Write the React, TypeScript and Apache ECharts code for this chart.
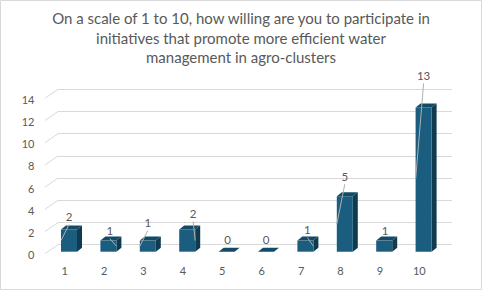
import React, { useEffect, useRef } from "react";
import * as echarts from "echarts";

const TITLE = "On a scale of 1 to 10, how willing are you to participate in\ninitiatives that promote more efficient water\nmanagement in agro-clusters";
const categories = ["1", "2", "3", "4", "5", "6", "7", "8", "9", "10"];
const values = [2, 1, 1, 2, 0, 0, 1, 5, 1, 13];
const yTicks = [0, 2, 4, 6, 8, 10, 12, 14];

// label layout (manual label placement as in the source, px relative to bar front top)
const labelDx = [0, 1.5, 0, 6, 1, 0, 2, 0, 1, 0];
const labelDy = [-13, -10, -18, -16, -12, -12, -11, -20, -10, -32];
const hasLeader = [true, true, true, true, false, false, true, true, false, true];

const FRONT_DX = -8.7;
const FRONT_DY = 7;
const DEPTH_X = 5;
const DEPTH_Y = -4;
const BAR_W = 16;
const TEXT = "#595959";
const GRID = "#d9d9d9";
const FONT = "Lato, 'Open Sans', sans-serif";

export default function App() {
  const ref = useRef<HTMLDivElement>(null);
  useEffect(() => {
    document.body.style.margin = "0";
    const chart = echarts.init(ref.current!, null, { renderer: "svg" });
    chart.setOption({
      animation: false,
      backgroundColor: "#ffffff",
      title: {
        text: TITLE,
        left: 241,
        top: 8,
        padding: 0,
        textAlign: "center",
        textStyle: { color: TEXT, fontSize: 15, fontWeight: "normal", lineHeight: 19.7, fontFamily: FONT, align: "center" },
      },
      grid: { left: 58, right: 30, top: 89.3, bottom: 45.3 },
      xAxis: {
        type: "category",
        data: categories,
        axisLine: { show: false },
        axisTick: { show: false },
        axisLabel: { color: TEXT, fontSize: 11, fontFamily: FONT, margin: 20, padding: [0, 26, 0, 0] },
      },
      yAxis: {
        type: "value",
        min: 0,
        max: 14,
        interval: 2,
        axisLine: { show: false },
        axisTick: { show: false },
        splitLine: { lineStyle: { color: GRID, width: 1 } },
        axisLabel: { color: TEXT, fontSize: 11, fontFamily: FONT, margin: 23.5, verticalAlign: "top", lineHeight: 20 },
      },
      graphic: [
        { type: "rect", shape: { x: 0.5, y: 0.5, width: 481, height: 289 }, style: { fill: "none", stroke: GRID, lineWidth: 1 } },
      ],
      series: [
        {
          type: "custom",
          data: yTicks.map((t) => [0, t]),
          silent: true,
          z: 1,
          renderItem: (params: any, api: any) => {
            const p = api.coord([0, api.value(1)]);
            const x0 = params.coordSys.x;
            return {
              type: "line",
              shape: { x1: x0, y1: p[1], x2: x0 - 13, y2: p[1] + 9 },
              style: { stroke: GRID, lineWidth: 1 },
            };
          },
        },
        {
          type: "custom",
          data: values.map((v, i) => [i, v]),
          z: 2,
          renderItem: (params: any, api: any) => {
            const i = api.value(0);
            const v = api.value(1);
            const p0 = api.coord([i, 0]);
            const p1 = api.coord([i, v]);
            const cx = p0[0] + FRONT_DX;
            const l = cx - BAR_W / 2;
            const r = cx + BAR_W / 2;
            const b = p0[1] + FRONT_DY;
            const t = p1[1] + FRONT_DY;
            const children: any[] = [];
            if (b - t > 0.5) {
              children.push({
                type: "polygon",
                shape: { points: [[r, t], [r + DEPTH_X, t + DEPTH_Y], [r + DEPTH_X, b + DEPTH_Y], [r, b]] },
                style: { fill: "#0f3b50" },
              });
              children.push({ type: "rect", shape: { x: l, y: t, width: BAR_W, height: b - t }, style: { fill: "#1b5d7e" } });
            }
            children.push({
              type: "polygon",
              shape: { points: [[l, t], [r, t], [r + DEPTH_X, t + DEPTH_Y], [l + DEPTH_X, t + DEPTH_Y]] },
              style: { fill: "#134b66" },
            });
            const lx = cx + labelDx[i];
            const ly = t + labelDy[i];
            if (hasLeader[i]) {
              const toRight = lx > cx + 1;
              children.push({
                type: "line",
                z2: 5,
                shape: { x1: lx, y1: ly + 8, x2: toRight ? r : l, y2: (t + b) / 2 },
                style: { stroke: "#b0b0b0", lineWidth: 1 },
              });
            }
            children.push({
              type: "text",
              z2: 6,
              style: {
                text: String(v),
                x: lx,
                y: ly,
                align: "center",
                verticalAlign: "middle",
                fill: TEXT,
                fontSize: 11.5,
                fontFamily: FONT,
              },
            });
            return { type: "group", children };
          },
        },
      ],
    });
    return () => chart.dispose();
  }, []);
  return <div ref={ref} style={{ width: 482, height: 290 }} />;
}
